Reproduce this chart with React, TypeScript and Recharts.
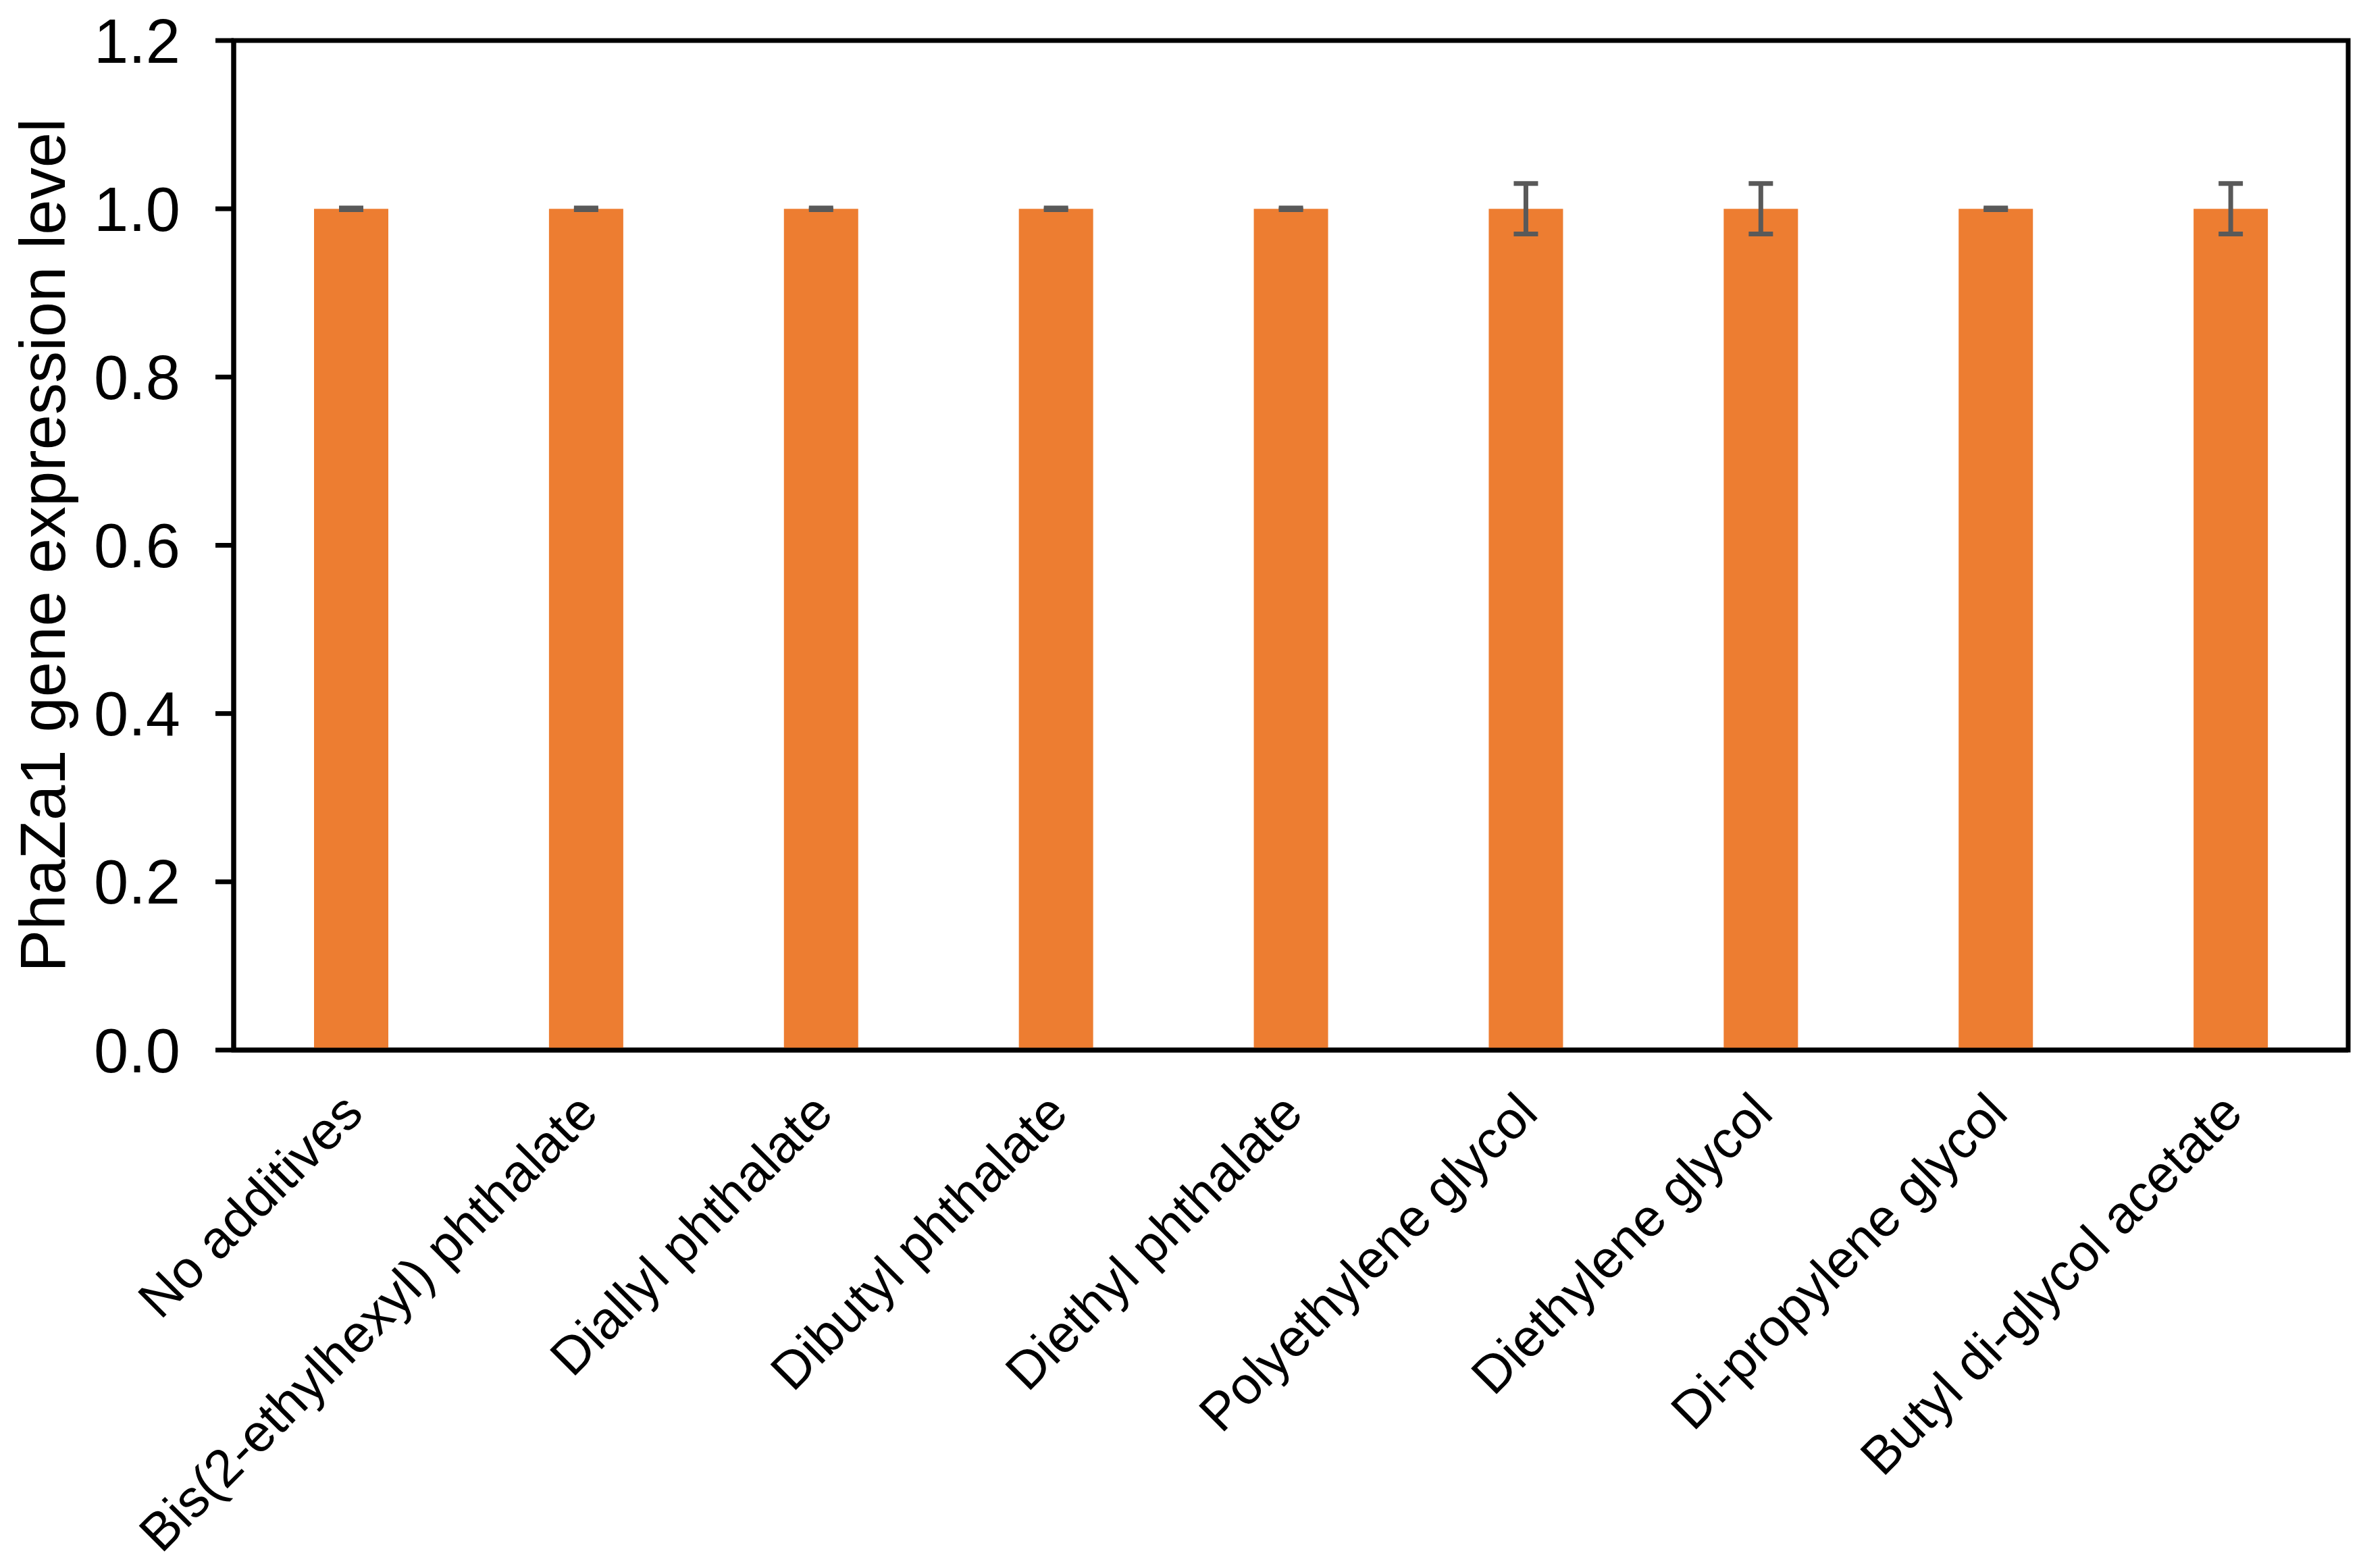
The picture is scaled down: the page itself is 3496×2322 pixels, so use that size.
import React from 'react';
import { BarChart, Bar, XAxis, YAxis, ErrorBar, ReferenceArea } from 'recharts';

const categories = [
  'No additives',
  'Bis(2-ethylhexyl) phthalate',
  'Diallyl phthalate',
  'Dibutyl phthalate',
  'Diethyl phthalate',
  'Polyethylene glycol',
  'Diethylene glycol',
  'Di-propylene glycol',
  'Butyl di-glycol acetate',
];
const expressionLevels = [1.0, 1.0, 1.0, 1.0, 1.0, 1.0, 1.0, 1.0, 1.0];
const errorValues = [0.001, 0.001, 0.001, 0.001, 0.001, 0.03, 0.03, 0.001, 0.03];
const yTicks = [0, 0.2, 0.4, 0.6, 0.8, 1.0, 1.2];
const yAxisTitle = 'PhaZa1 gene expression level';

const data = categories.map((name, i) => ({
  name,
  value: expressionLevels[i],
  err: errorValues[i],
}));

const FONT = '"Liberation Sans", Arial, Helvetica, sans-serif';

function YTitle(props: any) {
  const { viewBox } = props;
  const cx = viewBox.x + 88;
  const cy = viewBox.y + viewBox.height / 2;
  return (
    <text
      x={cx}
      y={cy}
      transform={`rotate(-90, ${cx}, ${cy})`}
      textAnchor="middle"
      fontSize={94}
      fontFamily={FONT}
      fill="#000"
    >
      {yAxisTitle}
    </text>
  );
}

export default function App() {
  return (
    <div style={{ width: 3480, height: 2306, background: '#fff' }}>
      <BarChart
        width={3480}
        height={2306}
        data={data}
        margin={{ top: 52, right: 11, bottom: 59, left: 0 }}
        barCategoryGap={0}
      >
        <ReferenceArea
          y1={0}
          y2={1.2}
          fill="none"
          fillOpacity={0}
          stroke="#000"
          strokeWidth={7}
          ifOverflow="visible"
        />
        <XAxis
          dataKey="name"
          interval={0}
          height={700}
          tickLine={false}
          tickSize={0}
          tickMargin={58}
          axisLine={{ stroke: '#000', strokeWidth: 7 }}
          tick={{ angle: -45, textAnchor: 'end', fontSize: 78, fontFamily: FONT, fill: '#000', dx: -18 }}
        />
        <YAxis
          width={338}
          domain={[0, 1.2]}
          ticks={yTicks}
          interval={0}
          tickFormatter={(v: number) => v.toFixed(1)}
          tickSize={27}
          tickMargin={52}
          axisLine={{ stroke: '#000', strokeWidth: 7 }}
          tickLine={{ stroke: '#000', strokeWidth: 7 }}
          tick={{ fontSize: 92, fontFamily: FONT, fill: '#000' }}
          label={<YTitle />}
        />
        <Bar dataKey="value" fill="#ED7D31" barSize={110} isAnimationActive={false}>
          <ErrorBar dataKey="err" width={18} stroke="#595959" strokeWidth={7} direction="y" />
        </Bar>
      </BarChart>
    </div>
  );
}
